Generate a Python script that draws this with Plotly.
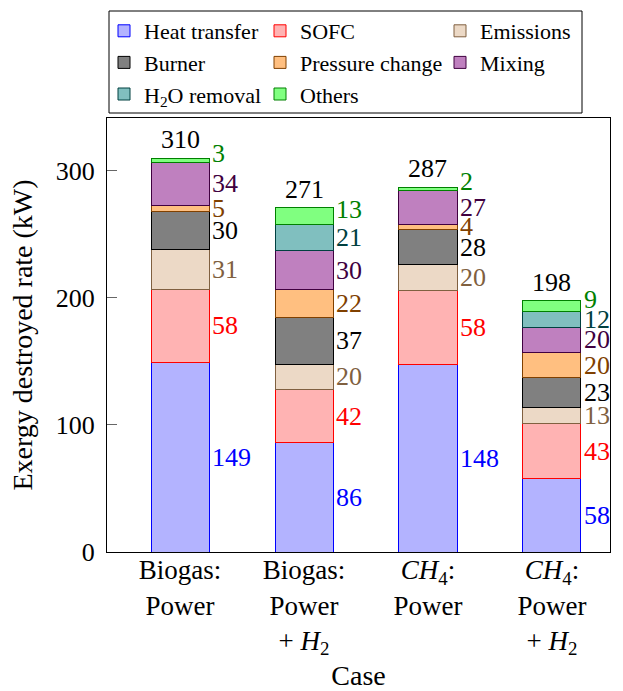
import plotly.graph_objects as go

cases = ["Biogas:<br>Power", "Biogas:<br>Power<br>+ <i>H</i><sub>2</sub>",
         "<i>CH</i><sub>4</sub>:<br>Power", "<i>CH</i><sub>4</sub>:<br>Power<br>+ <i>H</i><sub>2</sub>"]

series_names = ["Heat transfer", "SOFC", "Emissions", "Burner", "Pressure change",
                "Mixing", "H<sub>2</sub>O removal", "Others"]

heat_transfer = [149, 86, 148, 58]
sofc = [58, 42, 58, 43]
emissions = [31, 20, 20, 13]
burner = [30, 37, 28, 23]
pressure_change = [5, 22, 4, 20]
mixing = [34, 30, 27, 20]
h2o_removal = [0, 21, 0, 12]
others = [3, 13, 2, 9]
totals = [310, 271, 287, 198]

series_values = [heat_transfer, sofc, emissions, burner, pressure_change,
                 mixing, h2o_removal, others]

fill_colors = ["#b3b3ff", "#ffb3b3", "#ecd9c6", "#808080", "#ffbf80", "#bf80bf", "#80bfbf", "#80ff80"]
line_colors = ["#0000ff", "#ff0000", "#806040", "#000000", "#804000", "#400040", "#004040", "#008000"]
label_colors = ["#0000ff", "#ff0000", "#806040", "#000000", "#804000", "#400040", "#004040", "#008000"]
label_yshift = [0, 0, 0, 0, 0, 0, 0, 7]

FONT = "Liberation Serif"
W, H = 623, 691
ML, MR, MT, MB = 107, 13, 118, 139
PW, PH = W - ML - MR, H - MT - MB
YMAX = 341.7
BAR_W = 0.468

x = list(range(len(cases)))
fig = go.Figure()
legend_ids = ["legend", "legend2", "legend3"]
for i, (name, vals) in enumerate(zip(series_names, series_values)):
    fig.add_trace(go.Bar(
        x=x, y=vals, name=name, width=BAR_W,
        marker=dict(color=fill_colors[i], line=dict(color=line_colors[i], width=1)),
        legend=legend_ids[i % 3], hoverinfo="skip",
    ))

annotations = []
for j in x:
    cum = 0
    for i, vals in enumerate(series_values):
        v = vals[j]
        if v > 0:
            annotations.append(dict(
                x=j + BAR_W / 2, y=cum + v / 2, xref="x", yref="y", text=str(v),
                showarrow=False, xanchor="left", yanchor="middle", xshift=1,
                yshift=label_yshift[i],
                font=dict(family=FONT, size=26, color=label_colors[i])))
        cum += v
    annotations.append(dict(
        x=j, y=totals[j], xref="x", yref="y", text=str(totals[j]), showarrow=False,
        xanchor="center", yanchor="bottom", yshift=2,
        font=dict(family=FONT, size=26, color="black")))

def px_x(p):
    return (p - ML) / PW

def px_y(p):
    return (MT + PH - p) / PH

legend_common = dict(orientation="v", traceorder="normal", bgcolor="rgba(0,0,0,0)",
                     borderwidth=0, font=dict(family=FONT, size=22, color="black"),
                     xanchor="left", yanchor="top", itemwidth=30)
col_px = [104, 260, 440]
layout_legends = {}
for k, lid in enumerate(legend_ids):
    layout_legends[lid] = dict(legend_common, x=px_x(col_px[k]), y=px_y(10))

fig.update_layout(
    width=W, height=H,
    margin=dict(l=ML, r=MR, t=MT, b=MB, autoexpand=False),
    barmode="stack",
    plot_bgcolor="white", paper_bgcolor="white",
    font=dict(family=FONT, size=26, color="black"),
    showlegend=True,
    annotations=annotations,
    shapes=[dict(type="rect", xref="paper", yref="paper",
                 x0=px_x(109), x1=px_x(582), y0=px_y(113), y1=px_y(11),
                 line=dict(color="black", width=1), fillcolor="rgba(0,0,0,0)")],
    **layout_legends,
)
fig.update_xaxes(
    range=[-0.589, 3.468], tickvals=x, ticktext=cases, ticks="",
    tickfont=dict(family=FONT, size=27), showline=True, mirror=True,
    ticklabelstandoff=-6,
    linecolor="black", linewidth=1, showgrid=False, zeroline=False, automargin=False,
    title=dict(text="Case", font=dict(family=FONT, size=28), standoff=18),
)
fig.update_yaxes(
    range=[0, YMAX], tickvals=[0, 100, 200, 300], ticks="inside", ticklen=10,
    tickcolor="#666666", tickfont=dict(family=FONT, size=26),
    ticklabelstandoff=6, automargin=False,
    showline=True, mirror=True, linecolor="black", linewidth=1,
    showgrid=False, zeroline=False,
    title=dict(text="Exergy destroyed rate (kW)", font=dict(family=FONT, size=28), standoff=14),
)
fig.write_html("out.html")
